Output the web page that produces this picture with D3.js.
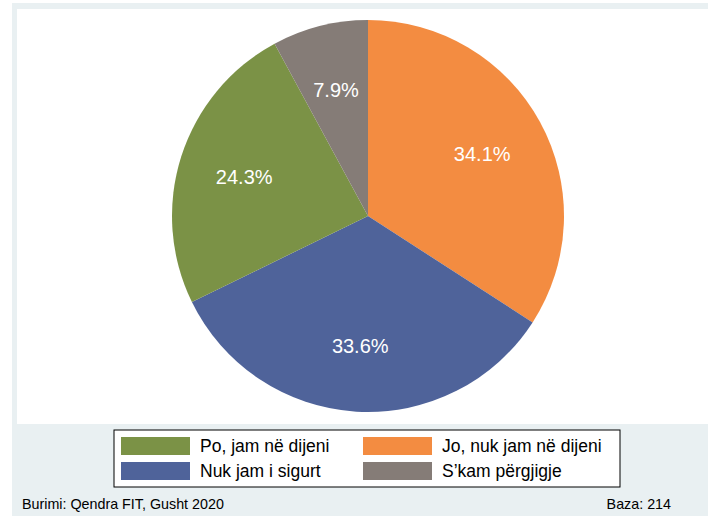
<!DOCTYPE html>
<html>
<head>
<meta charset="utf-8">
<script src="https://cdn.jsdelivr.net/npm/d3@7"></script>
<style>
  body { margin: 0; background: #fff; }
  svg { display: block; font-family: "Liberation Sans", Arial, sans-serif; }
</style>
</head>
<body>
<div id="canvas"><svg width="708" height="516"></svg></div>
<script>
// slices, clockwise from 12 o'clock
const categories = ["Jo, nuk jam në dijeni", "Nuk jam i sigurt", "Po, jam në dijeni", "S\u2019kam përgjigje"];
const values = [34.1, 33.6, 24.3, 7.9];
const colors = ["#f38c41", "#4f639a", "#7b9246", "#857c77"];
// legend reads row by row, two columns
const legendOrder = ["Po, jam në dijeni", "Jo, nuk jam në dijeni", "Nuk jam i sigurt", "S\u2019kam përgjigje"];
const source = "Burimi: Qendra FIT, Gusht 2020";
const base = "Baza: 214";

const svg = d3.select("#canvas").select("svg");

// outer panel + plot region
svg.append("rect").attr("x", 12).attr("y", 3).attr("width", 696).attr("height", 513).attr("fill", "#e9f0f2");
svg.append("rect").attr("x", 17).attr("y", 9).attr("width", 691).attr("height", 415).attr("fill", "#ffffff");

const cx = 368, cy = 216, R = 196;
const color = d3.scaleOrdinal().domain(categories).range(colors);

const pie = d3.pie().sort(null).value(d => d.v);
const arcs = pie(categories.map((c, i) => ({ c: c, v: values[i] })));
const arc = d3.arc().innerRadius(0).outerRadius(R);
const labelArc = d3.arc().innerRadius(130).outerRadius(130);

const g = svg.append("g").attr("transform", `translate(${cx},${cy})`);
g.selectAll("path.slice")
    .data(arcs)
    .enter().append("path")
    .attr("class", "slice")
    .attr("d", arc)
    .attr("fill", d => color(d.data.c));

g.selectAll("text.pct")
    .data(arcs)
    .enter().append("text")
    .attr("class", "pct")
    .attr("transform", d => `translate(${labelArc.centroid(d)})`)
    .attr("text-anchor", "middle")
    .attr("dy", "0.36em")
    .attr("font-size", 20)
    .attr("fill", "#ffffff")
    .text(d => d3.format(".1f")(d.data.v) + "%");

// legend
const lg = svg.append("g").attr("transform", "translate(114,430)");
lg.append("rect").attr("width", 506).attr("height", 57)
    .attr("fill", "#ffffff").attr("stroke", "#000").attr("stroke-width", 1);

const item = lg.selectAll("g.item")
    .data(legendOrder)
    .enter().append("g")
    .attr("class", "item")
    .attr("transform", (d, i) => `translate(${7 + (i % 2) * 242},${7 + Math.floor(i / 2) * 25})`);
item.append("rect").attr("width", 69).attr("height", 18).attr("fill", d => color(d));
item.append("text").attr("x", 79).attr("y", 15).attr("font-size", 17.5).attr("fill", "#000").text(d => d);

// footer
svg.append("text").attr("x", 22).attr("y", 509).attr("font-size", 14.3).attr("fill", "#000").text(source);
svg.append("text").attr("x", 671).attr("y", 509).attr("text-anchor", "end").attr("font-size", 14.3).attr("fill", "#000").text(base);
</script>
</body>
</html>
